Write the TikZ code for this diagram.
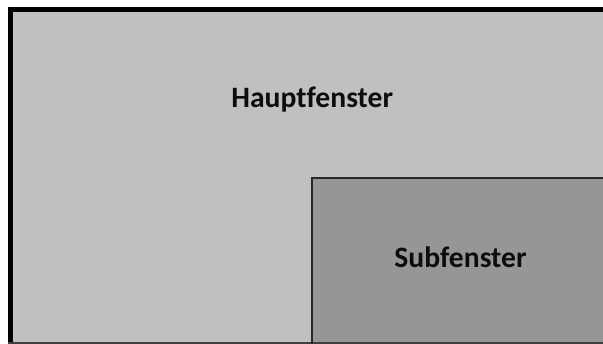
\documentclass[tikz,border=0pt]{standalone}
\usepackage{fontspec}
\setmainfont[Ligatures=NoCommon]{Carlito}
\definecolor{mainfill}{HTML}{C0C0C0}
\definecolor{subfill}{HTML}{969696}
\definecolor{txt}{HTML}{0D0D0D}
\tikzset{
  lbl/.style={font=\fontsize{29.6}{35}\selectfont\bfseries, text=txt, anchor=base, inner sep=0pt},
}
\begin{document}
\begin{tikzpicture}[x=1pt,y=-1pt]
\useasboundingbox (0,0) rectangle (603,344);
\fill[white] (0,0) rectangle (603,344);
% outer window
\fill[black] (8,7) rectangle (603,344);
\fill[mainfill] (13,12) rectangle (603,342);
\fill[black!75] (8,342) rectangle (603,344);
% sub window
\fill[subfill] (311,177) rectangle (603,342);
\draw[black!85, line width=1.6pt] (311.8,344) -- (311.8,177.8) -- (603,177.8);
\node[lbl] (haupt) at (312.2,107.5) {Hauptfenster};
\node[lbl] (sub) at (460.5,268) {Subfenster};
\end{tikzpicture}
\end{document}
